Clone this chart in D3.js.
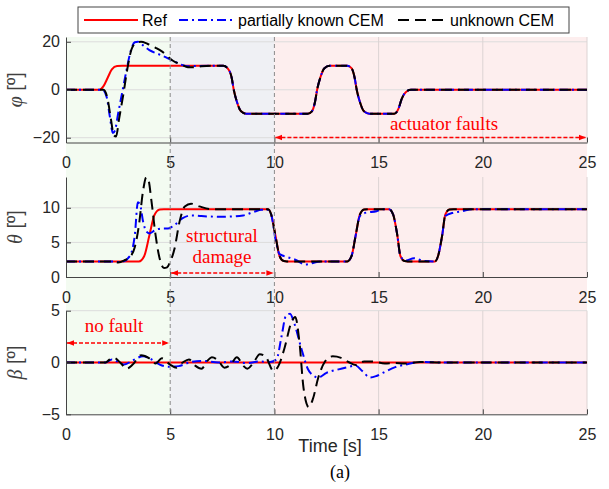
<!DOCTYPE html>
<html>
<head>
<meta charset="utf-8">
<script src="https://cdn.jsdelivr.net/npm/d3@7"></script>
<style>
body { margin: 0; background: #fff; }
svg text { font-family: "Liberation Sans", Arial, sans-serif; }
.note { font-family: "Liberation Serif", "Times New Roman", serif; fill: #ff0000; font-size: 19px; }
.tick text { font-size: 16px; fill: #262626; }
</style>
</head>
<body>
<svg id="chart" width="609" height="489"></svg>
<script>
// time ticks and fault phases
var timeTicks = [0, 5, 10, 15, 20, 25];
var phaseEdges = [0, 5, 10, 25];
var phaseColors = ["#f3fbf1", "#eff0f4", "#fdeeee"];

// roll angle phi [deg]
var phiRef = [[0,0],[1.6,0],[1.8,1.5],[2.0,5],[2.2,8.5],[2.45,9.9],[2.7,10],[7.55,10],[7.75,9],[7.95,5],[8.05,0],[8.2,-5],[8.4,-9],[8.65,-10],
  [11.6,-10],[11.8,-9],[11.95,-5],[12.05,0],[12.2,5],[12.4,9],[12.65,10],[13.5,10],[13.7,9],[13.85,5],[13.95,0],[14.1,-5],[14.3,-9],[14.55,-10],
  [15.75,-10],[15.95,-8],[16.1,-4],[16.3,-1],[16.55,0],[25,0]];
var phiPart = [[0,0],[1.75,0],[1.95,-3],[2.1,-11],[2.25,-18],[2.35,-17],[2.5,-10],[2.7,-1],[2.9,8],[3.1,16],[3.3,19.8],[3.45,20],[3.7,18.5],
  [4.0,16.5],[4.4,15],[4.8,13.5],[5.2,11.8],[5.55,10.4],[5.85,9.8],[6.2,9.9],[7.0,10],[7.55,10],[7.75,9],[7.95,5],[8.05,0],[8.2,-5],[8.4,-9],[8.65,-10],
  [11.6,-10],[11.8,-9],[11.95,-5],[12.05,0],[12.2,5],[12.4,9],[12.65,10],[13.5,10],[13.7,9],[13.85,5],[13.95,0],[14.1,-5],[14.3,-9],[14.55,-10],
  [15.75,-10],[15.95,-8],[16.1,-4],[16.3,-1],[16.55,0],[25,0]];
var phiUnk = [[0,0],[1.8,0],[2.0,-4],[2.15,-12],[2.3,-19],[2.4,-19.5],[2.55,-12],[2.75,-2],[2.95,9],[3.15,17],[3.4,19.8],[3.6,20],[3.9,19.2],
  [4.3,17.5],[4.6,16],[5.15,12],[5.55,10.4],[5.85,9.4],[6.1,9.4],[6.5,9.8],[7.0,10],[7.55,10],[7.75,9],[7.95,5],[8.05,0],[8.2,-5],[8.4,-9],[8.65,-10],
  [11.6,-10],[11.8,-9],[11.95,-5],[12.05,0],[12.2,5],[12.4,9],[12.65,10],[13.5,10],[13.7,9],[13.85,5],[13.95,0],[14.1,-5],[14.3,-9],[14.55,-10],
  [15.75,-10],[15.95,-8],[16.1,-4],[16.3,-1],[16.55,0],[25,0]];

// pitch angle theta [deg]
var thetaRef = [[0,2.25],[3.5,2.25],[3.75,3],[4.0,6],[4.25,9],[4.5,9.75],[4.7,9.8],[9.7,9.8],[9.85,9],[10.05,6],[10.25,3],[10.45,2.3],[10.6,2.25],
  [13.5,2.25],[13.7,3],[13.9,6],[14.1,9],[14.3,9.75],[14.5,9.8],[15.5,9.8],[15.7,9],[15.9,6],[16.05,3],[16.25,2.3],[16.4,2.25],
  [17.7,2.25],[17.85,3],[18.05,6],[18.2,9],[18.4,9.75],[18.6,9.8],[25,9.8]];
var thetaPart = [[0,2.25],[2.3,2.25],[2.5,2.15],[2.8,2.3],[3.0,2.8],[3.15,3.6],[3.3,6],[3.45,10.8],[3.55,10.5],[3.7,8],[3.85,6.6],[4.0,6.3],
  [4.3,6.8],[4.6,7.0],[4.9,7.0],[5.2,7.5],[5.6,8.5],[6.0,8.9],[6.5,8.8],[7.5,8.7],[8.5,8.9],[9.0,9.4],[9.4,9.7],[9.7,9.7],[9.85,9],[10.05,5.5],
  [10.25,3.3],[10.6,2.9],[11.0,2.5],[11.5,1.8],[11.8,2.0],[12.2,2.25],[13.5,2.25],[13.7,3],[13.9,6],[14.1,8.8],[14.4,9.3],[14.9,9.5],[15.2,9.8],
  [15.5,9.8],[15.7,9],[15.9,6],[16.05,3],[16.3,2.4],[16.7,2.7],[17.2,2.3],[17.7,2.25],[17.85,3],[18.05,6],[18.2,8.8],[18.6,9.3],[19.0,9.5],
  [19.5,9.8],[25,9.8]];
var thetaUnk = [[0,2.25],[2.3,2.25],[2.5,2.1],[2.8,2.4],[3.1,3],[3.3,4.3],[3.5,7.5],[3.7,12.5],[3.85,14.4],[3.95,14.1],[4.1,11],[4.3,6],[4.5,2.6],
  [4.7,1.3],[4.85,1.4],[5.0,2.2],[5.2,4],[5.45,8],[5.7,10.2],[6.0,10.6],[6.4,10.2],[7.0,9.8],[9.7,9.8],[9.85,9],[10.05,6],[10.25,3],[10.45,2.3],
  [10.6,2.25],[13.5,2.25],[13.7,3],[13.9,6],[14.1,9],[14.3,9.75],[14.5,9.8],[15.5,9.8],[15.7,9],[15.9,6],[16.05,3],[16.25,2.3],[16.4,2.25],
  [17.7,2.25],[17.85,3],[18.05,6],[18.2,9],[18.4,9.75],[18.6,9.8],[25,9.8]];

// sideslip beta [deg]
var betaRef = [[0,0],[25,0]];
var betaPart = [[0,0],[1.9,0],[2.2,0.3],[2.5,0.05],[2.8,-0.2],[3.2,0.2],[3.7,0.6],[4.1,0.3],[4.5,-0.2],[4.9,-0.4],[5.4,-0.35],[6.0,0.05],
  [6.6,0.15],[7.3,0.0],[8.0,0.1],[8.7,-0.05],[9.3,0.1],[9.8,0.05],[10.1,0.3],[10.35,2.6],[10.55,4.5],[10.75,4.7],[10.95,3.8],[11.3,1.3],
  [11.6,-0.6],[11.9,-1.3],[12.1,-1.45],[12.5,-1.0],[13.0,-0.7],[13.5,-0.45],[13.9,-0.3],[14.2,-0.8],[14.6,-1.45],[14.9,-1.3],[15.3,-0.9],
  [15.8,-0.45],[16.3,-0.2],[17.0,0.05],[18,0],[25,0]];
var betaUnk = [[0,0],[1.9,0],[2.1,0.3],[2.3,0.45],[2.6,0.0],[2.9,-0.6],[3.2,-0.2],[3.6,0.7],[4.0,0.4],[4.3,-0.1],[4.6,0.4],[5.0,-0.2],
  [5.3,-0.5],[5.6,0.0],[5.9,0.3],[6.2,-0.3],[6.5,-0.6],[6.8,0.2],[7.0,0.5],[7.3,0.2],[7.6,-0.5],[7.9,-0.2],[8.2,0.5],[8.5,-0.3],[8.7,-0.6],
  [9.0,0.0],[9.3,0.8],[9.6,0.5],[9.95,-0.8],[10.2,-0.3],[10.5,1.5],[10.8,3.8],[11.0,4.4],[11.2,2.0],[11.4,-2.5],[11.65,-4.3],[11.85,-3.5],
  [12.1,-1.5],[12.4,0],[12.8,0.6],[13.2,0.45],[13.6,0.0],[13.9,-0.25],[14.3,0.1],[14.7,0.1],[15.3,-0.1],[15.8,-0.05],[16.2,-0.1],[17,0.05],
  [18,0],[25,0]];

var seriesNames = ["Ref", "partially known CEM", "unknown CEM"];

var svg = d3.select("#chart");
var x = d3.scaleLinear().domain([0, 25]).range([66, 587]);

var panels = [
  {sym: "\u03c6", top: 37, bottom: 142.5, dom: [-22, 22], ticks: [-20, 0, 20], data: [phiRef, phiPart, phiUnk]},
  {sym: "\u03b8", top: 177, bottom: 277, dom: [0, 14.45], ticks: [0, 5, 10], data: [thetaRef, thetaPart, thetaUnk]},
  {sym: "\u03b2", top: 310.7, bottom: 414.3, dom: [-5, 5], ticks: [-5, 0, 5], data: [betaRef, betaPart, betaUnk]}
];

var styles = [
  {color: "#ff0000", dash: null},
  {color: "#0000ff", dash: "9,4,2,4"},
  {color: "#000000", dash: "11,6"}
];

// background phases
svg.selectAll("rect.phase").data(phaseColors).enter().append("rect")
  .attr("class", "phase")
  .attr("x", function(d, i) { return x(phaseEdges[i]); })
  .attr("y", 37)
  .attr("width", function(d, i) { return x(phaseEdges[i + 1]) - x(phaseEdges[i]); })
  .attr("height", 414.3 - 37)
  .attr("fill", function(d) { return d; });

var defs = svg.append("defs");
defs.append("marker").attr("id", "arrEnd").attr("viewBox", "0 0 10 10")
  .attr("refX", 10).attr("refY", 5).attr("markerWidth", 7).attr("markerHeight", 7)
  .attr("markerUnits", "userSpaceOnUse").attr("orient", "auto")
  .append("path").attr("d", "M0,1L10,5L0,9Z").attr("fill", "#ff0000");
defs.append("marker").attr("id", "arrStart").attr("viewBox", "0 0 10 10")
  .attr("refX", 0).attr("refY", 5).attr("markerWidth", 7).attr("markerHeight", 7)
  .attr("markerUnits", "userSpaceOnUse").attr("orient", "auto")
  .append("path").attr("d", "M10,1L0,5L10,9Z").attr("fill", "#ff0000");

panels.forEach(function(p, k) {
  var y = d3.scaleLinear().domain(p.dom).range([p.bottom, p.top]);
  var g = svg.append("g");

  defs.append("clipPath").attr("id", "clip" + k)
    .append("rect").attr("x", x(0)).attr("y", p.top)
    .attr("width", x(25) - x(0)).attr("height", p.bottom - p.top);

  // grid
  g.selectAll("line.gy").data(p.ticks.filter(function(t) { return y(t) < p.bottom - 1; })).enter().append("line")
    .attr("x1", x(0)).attr("x2", x(25))
    .attr("y1", function(d) { return y(d); }).attr("y2", function(d) { return y(d); })
    .attr("stroke", "#dcdcdc").attr("stroke-width", 1);
  g.selectAll("line.gx").data([15, 20, 25]).enter().append("line")
    .attr("x1", function(d) { return x(d); }).attr("x2", function(d) { return x(d); })
    .attr("y1", p.top).attr("y2", p.bottom)
    .attr("stroke", "#dcd3d3").attr("stroke-width", 1);

  // curves
  var line = d3.line()
    .x(function(d) { return x(d[0]); })
    .y(function(d) { return y(d[1]); })
    .curve(d3.curveMonotoneX);
  var lg = g.append("g").attr("clip-path", "url(#clip" + k + ")");
  p.data.forEach(function(s, i) {
    lg.append("path").datum(s)
      .attr("d", line)
      .attr("fill", "none")
      .attr("stroke", styles[i].color)
      .attr("stroke-width", 2)
      .attr("stroke-dasharray", styles[i].dash);
  });

  // axes
  var ax = g.append("g").attr("transform", "translate(0," + p.bottom + ")")
    .call(d3.axisBottom(x).tickValues(timeTicks).tickSizeInner(-5).tickSizeOuter(0).tickPadding(14.5));
  var ay = g.append("g").attr("transform", "translate(" + x(0) + ",0)")
    .call(d3.axisLeft(y).tickValues(p.ticks).tickSizeInner(-5).tickSizeOuter(0).tickPadding(6));
  [ax, ay].forEach(function(a) {
    a.select(".domain").attr("stroke", "#444");
    a.selectAll(".tick line").attr("stroke", "#444");
  });

  // y label
  var yl = svg.append("text")
    .attr("transform", "translate(22," + ((p.top + p.bottom) / 2) + ") rotate(-90)")
    .attr("text-anchor", "middle")
    .attr("fill", "#404040")
    .attr("font-size", 20);
  yl.append("tspan").text(p.sym)
    .style("font-family", "'Liberation Serif', serif").style("font-style", "italic");
  yl.append("tspan").text(" [\u00ba]");
});

// phase separators
svg.selectAll("line.sep").data([5, 10]).enter().append("line")
  .attr("x1", function(d) { return x(d); }).attr("x2", function(d) { return x(d); })
  .attr("y1", 37).attr("y2", 414.3)
  .attr("stroke", "#8a8a8a").attr("stroke-width", 1).attr("stroke-dasharray", "4,3");

// annotations
var notes = [
  {from: 10, to: 25, y: 137.5, lines: ["actuator faults"], tx: 444, ty: 130},
  {from: 5, to: 10, y: 273, lines: ["structural", "damage"], tx: 222, ty: 242},
  {from: 0, to: 5, y: 343, lines: ["no fault"], tx: 114, ty: 332}
];
notes.forEach(function(n) {
  svg.append("line")
    .attr("x1", x(n.from) + 1).attr("x2", x(n.to) - 1)
    .attr("y1", n.y).attr("y2", n.y)
    .attr("stroke", "#ff0000").attr("stroke-width", 1.4).attr("stroke-dasharray", "4,2")
    .attr("marker-start", "url(#arrStart)").attr("marker-end", "url(#arrEnd)");
  n.lines.forEach(function(t, i) {
    svg.append("text").attr("class", "note")
      .attr("x", n.tx).attr("y", n.ty + i * 21)
      .attr("text-anchor", "middle").text(t);
  });
});

// legend
var leg = svg.append("g");
leg.append("rect").attr("x", 78).attr("y", 7).attr("width", 491).attr("height", 26)
  .attr("fill", "#fff").attr("stroke", "#444").attr("stroke-width", 1);
var legX = [[84, 138, 142], [179, 233, 238], [398, 448, 450]];
seriesNames.forEach(function(name, i) {
  leg.append("line").attr("x1", legX[i][0]).attr("x2", legX[i][1]).attr("y1", 20).attr("y2", 20)
    .attr("stroke", styles[i].color).attr("stroke-width", 2).attr("stroke-dasharray", styles[i].dash);
  leg.append("text").attr("x", legX[i][2]).attr("y", 26).attr("font-size", 16).attr("fill", "#000").text(name);
});

// x label and caption
svg.append("text").attr("x", 330).attr("y", 452).attr("text-anchor", "middle")
  .attr("font-size", 18).attr("fill", "#262626").text("Time [s]");
svg.append("text").attr("x", 340).attr("y", 478).attr("text-anchor", "middle")
  .attr("font-size", 18).style("font-family", "'Liberation Serif', serif").attr("fill", "#000").text("(a)");
</script>
</body>
</html>
